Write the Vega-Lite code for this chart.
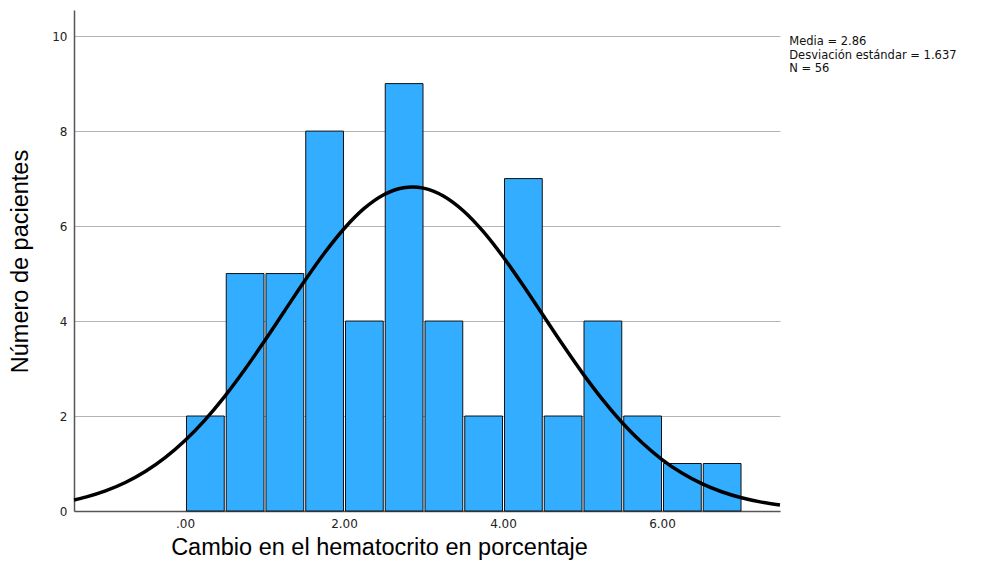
{
  "$schema": "https://vega.github.io/schema/vega-lite/v6.json",
  "width": 706,
  "height": 501,
  "autosize": "none",
  "padding": {"left": 74, "top": 10, "right": 201, "bottom": 60},
  "background": "white",
  "config": {
    "view": {"stroke": null},
    "axis": {"labelFont": "DejaVu Sans", "labelFontSize": 12, "labelColor": "#222", "titleFont": "Liberation Sans", "titleFontSize": 23.5, "titleFontWeight": "normal", "titleColor": "#000"}
  },
  "datasets": {
    "barras": [
      {"desde": 0.0, "hasta": 0.5, "pacientes": 2},
      {"desde": 0.5, "hasta": 1.0, "pacientes": 5},
      {"desde": 1.0, "hasta": 1.5, "pacientes": 5},
      {"desde": 1.5, "hasta": 2.0, "pacientes": 8},
      {"desde": 2.0, "hasta": 2.5, "pacientes": 4},
      {"desde": 2.5, "hasta": 3.0, "pacientes": 9},
      {"desde": 3.0, "hasta": 3.5, "pacientes": 4},
      {"desde": 3.5, "hasta": 4.0, "pacientes": 2},
      {"desde": 4.0, "hasta": 4.5, "pacientes": 7},
      {"desde": 4.5, "hasta": 5.0, "pacientes": 2},
      {"desde": 5.0, "hasta": 5.5, "pacientes": 4},
      {"desde": 5.5, "hasta": 6.0, "pacientes": 2},
      {"desde": 6.0, "hasta": 6.5, "pacientes": 1},
      {"desde": 6.5, "hasta": 7.0, "pacientes": 1}
    ],
    "curva": [
      {"x": -1.396, "y": 0.2324},
      {"x": -1.25, "y": 0.2919},
      {"x": -1.0, "y": 0.4233},
      {"x": -0.75, "y": 0.5998},
      {"x": -0.5, "y": 0.8302},
      {"x": -0.25, "y": 1.1227},
      {"x": 0.0, "y": 1.4833},
      {"x": 0.25, "y": 1.9144},
      {"x": 0.5, "y": 2.4138},
      {"x": 0.75, "y": 2.9735},
      {"x": 1.0, "y": 3.5784},
      {"x": 1.25, "y": 4.2071},
      {"x": 1.5, "y": 4.8323},
      {"x": 1.75, "y": 5.4223},
      {"x": 2.0, "y": 5.9441},
      {"x": 2.25, "y": 6.366},
      {"x": 2.5, "y": 6.6607},
      {"x": 2.75, "y": 6.8083},
      {"x": 2.86, "y": 6.8237},
      {"x": 3.0, "y": 6.7988},
      {"x": 3.25, "y": 6.6328},
      {"x": 3.5, "y": 6.3217},
      {"x": 3.75, "y": 5.8862},
      {"x": 4.0, "y": 5.3544},
      {"x": 4.25, "y": 4.7584},
      {"x": 4.5, "y": 4.1312},
      {"x": 4.75, "y": 3.504},
      {"x": 5.0, "y": 2.9035},
      {"x": 5.25, "y": 2.3505},
      {"x": 5.5, "y": 1.8589},
      {"x": 5.75, "y": 1.4363},
      {"x": 6.0, "y": 1.0841},
      {"x": 6.25, "y": 0.7994},
      {"x": 6.5, "y": 0.5759},
      {"x": 6.75, "y": 0.4054},
      {"x": 7.0, "y": 0.2787},
      {"x": 7.25, "y": 0.1872},
      {"x": 7.484, "y": 0.1272}
    ]
  },
  "layer": [
    {
      "data": {"name": "barras"},
      "mark": {"type": "bar", "fill": "#33adff", "stroke": "#111", "strokeWidth": 1, "binSpacing": 2},
      "encoding": {
        "x": {
          "field": "desde", "type": "quantitative", "bin": "binned",
          "scale": {"domain": [-1.396, 7.484], "nice": false, "zero": false},
          "axis": {
            "values": [0, 2, 4, 6],
            "labelExpr": "datum.value == 0 ? '.00' : format(datum.value, '.2f')",
            "grid": false, "ticks": false, "labelPadding": 7,
            "domainColor": "#555", "domainWidth": 1.5,
            "title": "Cambio en el hematocrito en porcentaje",
            "titleX": 305, "titleY": 36, "titleAlign": "center", "titleBaseline": "middle"
          }
        },
        "x2": {"field": "hasta"},
        "y": {
          "field": "pacientes", "type": "quantitative",
          "scale": {"domain": [0, 10.55], "nice": false},
          "axis": {
            "values": [0, 2, 4, 6, 8, 10],
            "grid": true, "gridColor": "#b5b5b5", "gridWidth": 1,
            "ticks": false, "labelPadding": 7,
            "domainColor": "#555", "domainWidth": 1.5,
            "title": "Número de pacientes",
            "titleX": -54, "titleY": 251, "titleAlign": "center", "titleBaseline": "middle", "titleAngle": -90
          }
        }
      }
    },
    {
      "data": {"name": "curva"},
      "mark": {"type": "line", "color": "#000", "strokeWidth": 3.5, "interpolate": "monotone"},
      "encoding": {
        "x": {"field": "x", "type": "quantitative"},
        "y": {"field": "y", "type": "quantitative"}
      }
    },
    {
      "data": {"values": [{}]},
      "mark": {
        "type": "text", "align": "left", "baseline": "top",
        "font": "DejaVu Sans", "fontSize": 11.5, "lineHeight": 13.5, "color": "#111",
        "text": ["Media = 2.86", "Desviación estándar = 1.637", "N = 56"]
      },
      "encoding": {
        "x": {"datum": 7.6, "type": "quantitative"},
        "y": {"datum": 10.0, "type": "quantitative"}
      }
    }
  ]
}
